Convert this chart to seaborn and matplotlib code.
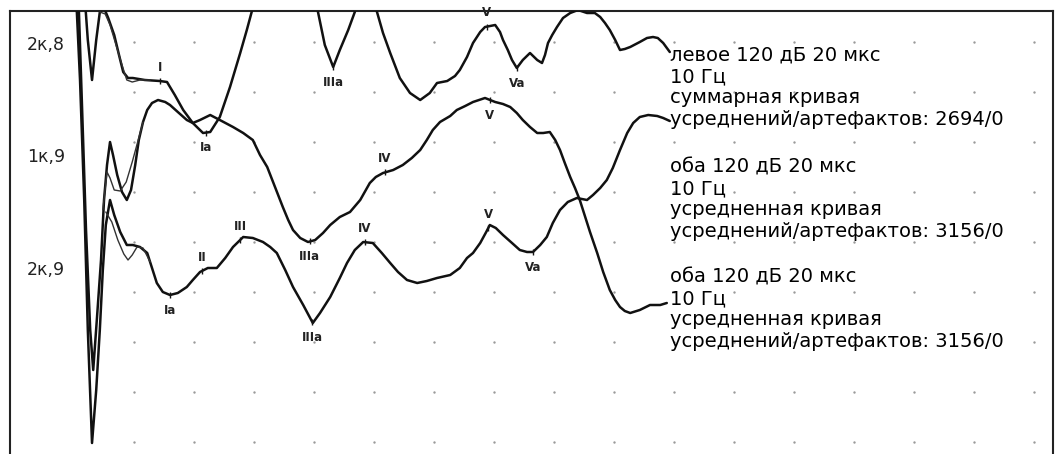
import numpy as np
import pandas as pd
import matplotlib
matplotlib.use("Agg")
import matplotlib.pyplot as plt
import seaborn as sns

# --- data: time in divisions, amplitude in divisions (stacked display) ---
t1 = [0.17, 0.23, 0.30, 0.37, 0.43, 0.50, 0.57, 0.67, 0.75, 0.82, 0.90, 0.98, 1.18, 1.43, 1.55,
      1.68, 1.82, 1.98, 2.15, 2.27, 2.43, 2.60, 2.77, 2.88, 2.97, 3.10, 3.52, 3.93, 4.07, 4.18,
      4.32, 4.43, 4.57, 4.68, 4.80, 4.93, 5.05, 5.15, 5.27, 5.43, 5.60, 5.77, 5.93, 6.05, 6.22,
      6.35, 6.43, 6.55, 6.65, 6.77, 6.85, 7.02, 7.10, 7.15, 7.23, 7.30, 7.38, 7.48, 7.60, 7.72,
      7.80, 7.85, 7.90, 7.97, 8.05, 8.15, 8.27, 8.40, 8.55, 8.68, 8.77, 8.85, 8.93, 9.02, 9.10,
      9.18, 9.27, 9.43, 9.55, 9.65, 9.73, 9.82, 9.93]
a1 = [5.04, 4.04, 3.24, 4.04, 4.60, 4.68, 4.48, 4.14, 3.74, 3.40, 3.28, 3.28, 3.24, 3.22, 3.20,
      2.94, 2.64, 2.38, 2.18, 2.20, 2.50, 3.10, 3.78, 4.24, 4.64, 5.34, 5.84, 5.34, 4.58, 3.94,
      3.50, 3.84, 4.24, 4.60, 5.14, 5.14, 4.60, 4.18, 3.78, 3.28, 2.98, 2.84, 2.98, 3.18, 3.22,
      3.32, 3.44, 3.70, 3.98, 4.20, 4.30, 4.34, 4.20, 4.04, 3.84, 3.64, 3.48, 3.64, 3.78, 3.64,
      3.58, 3.74, 3.98, 4.14, 4.30, 4.48, 4.58, 4.64, 4.58, 4.58, 4.50, 4.38, 4.24, 4.04, 3.84,
      3.86, 3.90, 4.00, 4.08, 4.10, 4.08, 3.98, 3.80]
t1_rep = [0.43, 0.52, 0.60, 0.70, 0.80, 0.88, 0.97, 1.10, 1.27]
a1_rep = [4.60, 4.56, 4.34, 3.94, 3.54, 3.24, 3.20, 3.24, 3.24]

t2 = [0.07, 0.13, 0.20, 0.27, 0.32, 0.38, 0.45, 0.50, 0.55, 0.60, 0.65, 0.72, 0.80, 0.88, 0.95,
      1.02, 1.08, 1.15, 1.22, 1.30, 1.40, 1.52, 1.60, 1.73, 1.88, 1.98, 2.10, 2.27, 2.43, 2.65,
      2.82, 2.98, 3.10, 3.22, 3.35, 3.48, 3.57, 3.65, 3.77, 3.90, 4.02, 4.15, 4.27, 4.43, 4.60,
      4.77, 4.93, 5.03, 5.15, 5.32, 5.48, 5.63, 5.77, 5.88, 5.98, 6.10, 6.27, 6.38, 6.52, 6.65,
      6.85, 7.02, 7.15, 7.27, 7.38, 7.48, 7.60, 7.72, 7.82, 7.93, 8.02, 8.10, 8.18, 8.27, 8.35,
      8.43, 8.60, 8.72, 8.82, 8.93, 9.02, 9.10, 9.18, 9.27, 9.43, 9.60, 9.77, 9.88]
a2 = [5.04, 2.84, 0.24, -1.76, -2.56, -1.56, -0.36, 0.84, 1.54, 2.00, 1.74, 1.34, 1.00, 0.84, 1.04,
      1.54, 2.04, 2.40, 2.64, 2.78, 2.84, 2.80, 2.74, 2.60, 2.44, 2.38, 2.44, 2.54, 2.44, 2.30,
      2.18, 2.04, 1.74, 1.50, 1.10, 0.70, 0.44, 0.24, 0.08, 0.00, 0.04, 0.18, 0.34, 0.50, 0.60,
      0.84, 1.18, 1.30, 1.38, 1.44, 1.54, 1.68, 1.84, 2.04, 2.24, 2.40, 2.52, 2.64, 2.72, 2.80,
      2.88, 2.80, 2.76, 2.70, 2.58, 2.44, 2.30, 2.18, 2.18, 2.20, 2.04, 1.84, 1.58, 1.30, 1.08,
      0.84, 0.20, -0.22, -0.60, -0.96, -1.16, -1.30, -1.38, -1.42, -1.36, -1.26, -1.26, -1.22]
t2_rep = [0.48, 0.55, 0.60, 0.67, 0.77, 0.87, 0.97, 1.07, 1.15]
a2_rep = [0.64, 1.40, 1.28, 1.04, 1.02, 1.20, 1.60, 2.04, 2.40]

t3 = [0.03, 0.10, 0.17, 0.23, 0.30, 0.37, 0.43, 0.48, 0.53, 0.60, 0.67, 0.77, 0.88, 0.98, 1.10,
      1.22, 1.30, 1.38, 1.48, 1.60, 1.73, 1.88, 1.98, 2.10, 2.23, 2.38, 2.52, 2.65, 2.82, 2.98,
      3.15, 3.27, 3.38, 3.52, 3.65, 3.82, 3.98, 4.10, 4.27, 4.43, 4.55, 4.68, 4.82, 4.98, 5.13,
      5.27, 5.40, 5.55, 5.72, 5.88, 6.05, 6.27, 6.43, 6.55, 6.65, 6.77, 6.87, 6.93, 7.03, 7.15,
      7.30, 7.43, 7.55, 7.65, 7.77, 7.88, 7.98, 8.10, 8.23, 8.38, 8.55, 8.65, 8.77, 8.88, 8.98,
      9.10, 9.22, 9.32, 9.43, 9.57, 9.72, 9.82, 9.93]
a3 = [5.04, 3.24, 0.84, -1.76, -4.02, -2.96, -1.76, -0.56, 0.34, 0.84, 0.54, 0.20, -0.06, -0.06, -0.10,
      -0.22, -0.52, -0.82, -1.00, -1.06, -1.02, -0.90, -0.76, -0.60, -0.52, -0.52, -0.32, -0.10, 0.10, 0.08,
      0.00, -0.10, -0.22, -0.56, -0.90, -1.26, -1.62, -1.42, -1.10, -0.72, -0.42, -0.16, 0.00, -0.02, -0.22,
      -0.42, -0.60, -0.76, -0.82, -0.78, -0.72, -0.66, -0.52, -0.32, -0.22, -0.02, 0.20, 0.34, 0.28, 0.14,
      -0.02, -0.16, -0.20, -0.20, -0.06, 0.10, 0.38, 0.64, 0.80, 0.88, 0.84, 0.94, 1.08, 1.24, 1.48,
      1.84, 2.18, 2.38, 2.50, 2.54, 2.52, 2.48, 2.42]
t3_rep = [0.53, 0.63, 0.73, 0.83, 0.90, 0.97, 1.05, 1.15, 1.27]
a3_rep = [0.60, 0.40, 0.04, -0.24, -0.36, -0.26, -0.10, -0.12, -0.40]

# peak markers: (trace, name, time, label above?)
peak_trace = [1, 1, 1, 1, 1, 2, 2, 2, 3, 3, 3, 3, 3, 3, 3]
peak_name = ["I", "Ia", "IIIa", "V", "Va", "IIIa", "IV", "V",
             "Ia", "II", "III", "IIIa", "IV", "V", "Va"]
peak_time = [1.43, 2.20, 4.32, 6.88, 7.38, 3.93, 5.18, 6.93,
             1.60, 2.13, 2.77, 3.97, 4.85, 6.90, 7.65]
peak_up = [True, False, False, True, False, False, True, False,
           False, True, True, False, True, True, False]

channel_labels = ["2к,8", "1к,9", "2к,9"]
channel_level = [3.94, 1.70, -0.56]

info_blocks = [
    ["левое 120 дБ 20 мкс", "10 Гц", "суммарная кривая", "усреднений/артефактов: 2694/0"],
    ["оба 120 дБ 20 мкс", "10 Гц", "усредненная кривая", "усреднений/артефактов: 3156/0"],
    ["оба 120 дБ 20 мкс", "10 Гц", "усредненная кривая", "усреднений/артефактов: 3156/0"],
]
info_top = [3.74, 1.50, -0.70]

sns.set_theme(style="white")
plt.rcParams["font.family"] = ["DejaVu Sans"]

fig = plt.figure(figsize=(10.57, 4.54), dpi=100)
ax = fig.add_axes([10 / 1057, 0.0, 1043 / 1057, 443 / 454])

# dotted grid
gx, gy = np.meshgrid(np.arange(1, 17), np.arange(-4, 5))
ax.scatter(gx.ravel(), gy.ravel(), s=3, color="#9a9a9a", linewidths=0, zorder=1)

traces = [(t1, a1), (t2, a2), (t3, a3)]
reps = [(t1_rep, a1_rep), (t2_rep, a2_rep), (t3_rep, a3_rep)]
for (tt, aa), (tr, ar) in zip(traces, reps):
    df = pd.DataFrame({"t": tt, "a": aa})
    sns.lineplot(data=df, x="t", y="a", sort=False, estimator=None, ax=ax,
                 color="#111111", lw=1.8, zorder=3)
    dr = pd.DataFrame({"t": tr, "a": ar})
    sns.lineplot(data=dr, x="t", y="a", sort=False, estimator=None, ax=ax,
                 color="#333333", lw=1.0, zorder=3)

# peak labels
for tr, name, pt, up in zip(peak_trace, peak_name, peak_time, peak_up):
    tt, aa = traces[tr - 1]
    py = np.interp(pt, tt, aa)
    ax.plot([pt], [py], marker="|", ms=5, mew=1.0, color="#151515", zorder=4)
    ax.annotate(name, (pt, py), xytext=(0, 10 if up else -11), textcoords="offset points",
                ha="center", va="center", fontsize=8.5, fontweight="bold", color="#222222")

for lab, lv in zip(channel_labels, channel_level):
    ax.text(-0.47, lv, lab, ha="center", va="center", fontsize=12.5, color="#222222")

for block, top in zip(info_blocks, info_top):
    for i, line in enumerate(block):
        ax.text(9.93, top - i * 0.43, line, ha="left", va="center", fontsize=14,
                color="#000000")

ax.set_xlim(-1.067, 16.317)
ax.set_ylim(-4.24, 4.62)
ax.set_xticks([])
ax.set_yticks([])
ax.set_xlabel("")
ax.set_ylabel("")
ax.spines["bottom"].set_visible(False)
for s in ["left", "top", "right"]:
    ax.spines[s].set_color("#222222")
    ax.spines[s].set_linewidth(1.5)

fig.savefig("out.png", dpi=100)
